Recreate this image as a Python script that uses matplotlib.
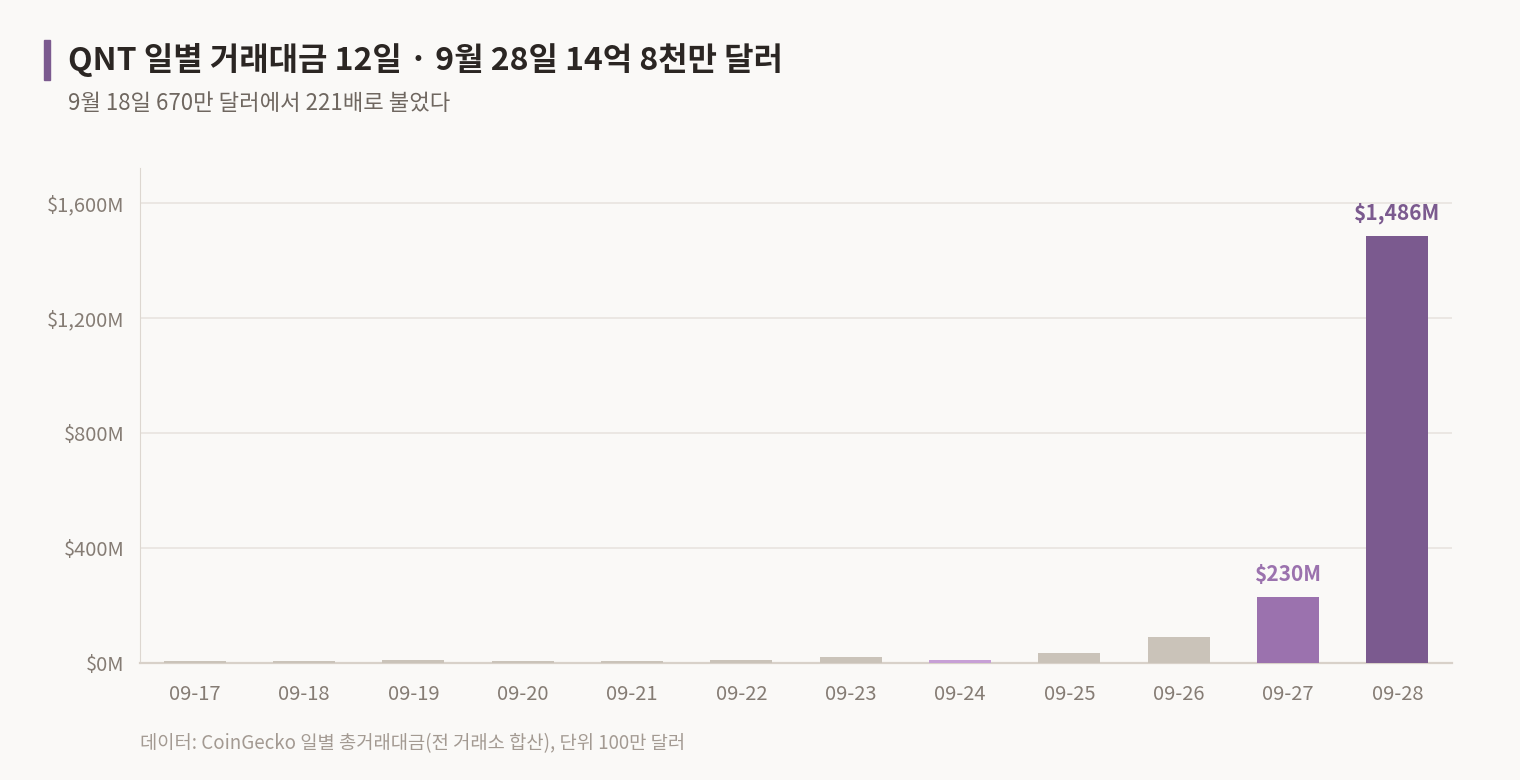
import numpy as np
import matplotlib.pyplot as plt
from matplotlib.patches import Rectangle
from matplotlib.ticker import FuncFormatter

plt.rcParams['font.family'] = ['Noto Sans CJK KR', 'DejaVu Sans']

dates = ["09-17", "09-18", "09-19", "09-20", "09-21", "09-22",
         "09-23", "09-24", "09-25", "09-26", "09-27", "09-28"]
volume = [8, 6.7, 9, 8, 7, 11, 21, 12, 35, 91, 230, 1486]
colors = ["#cac3b9"] * 7 + ["#c7a0d6", "#cac3b9", "#cac3b9", "#9b72ae", "#7b5a8f"]
labeled = {10: "#9b72ae", 11: "#7b5a8f"}

bg = "#faf9f7"
fig = plt.figure(figsize=(15.2, 7.8), dpi=100, facecolor=bg)
ax = fig.add_axes([140 / 1520, 1 - 663 / 780, 1312 / 1520, (663 - 168) / 780])
ax.set_facecolor(bg)

x = np.arange(len(dates))
ax.bar(x, volume, width=0.565, color=colors, zorder=3)
for i, c in labeled.items():
    ax.text(x[i], volume[i] + 40, f"${volume[i]:,.0f}M", ha="center", va="bottom",
            fontsize=15, fontweight="bold", color=c)

ax.set_xlim(-0.5, 11.5)
ax.set_ylim(0, 1722)
ax.set_yticks([0, 400, 800, 1200, 1600])
ax.yaxis.set_major_formatter(FuncFormatter(lambda v, p: f"${v:,.0f}M"))
ax.set_xticks(x)
ax.set_xticklabels(dates)
ax.tick_params(axis="both", length=0, labelsize=14.5, labelcolor="#857c74")
ax.tick_params(axis="x", pad=15)
ax.tick_params(axis="y", pad=11)
ax.grid(axis="y", color="#e8e4df", linewidth=1.2, zorder=0)
for s in ["top", "right"]:
    ax.spines[s].set_visible(False)
ax.spines["left"].set_color("#ddd7d0")
ax.spines["bottom"].set_color("#d8d1c9")
ax.spines["bottom"].set_linewidth(1.6)

fig.patches.append(Rectangle((44 / 1520, 1 - 80 / 780), 6 / 1520, 40 / 780,
                             transform=fig.transFigure, color="#7b5a8f"))
fig.text(68 / 1520, 1 - 60 / 780, "QNT 일별 거래대금 12일 · 9월 28일 14억 8천만 달러",
         fontsize=23, fontweight="bold", color="#2b2623", va="center")
fig.text(68 / 1520, 1 - 103 / 780, "9월 18일 670만 달러에서 221배로 불었다",
         fontsize=16, color="#6f6760", va="center")
fig.text(140 / 1520, 1 - 744 / 780, "데이터: CoinGecko 일별 총거래대금(전 거래소 합산), 단위 100만 달러",
         fontsize=13.5, color="#a39a92", va="center")

fig.savefig("out.png", dpi=100, facecolor=bg)
